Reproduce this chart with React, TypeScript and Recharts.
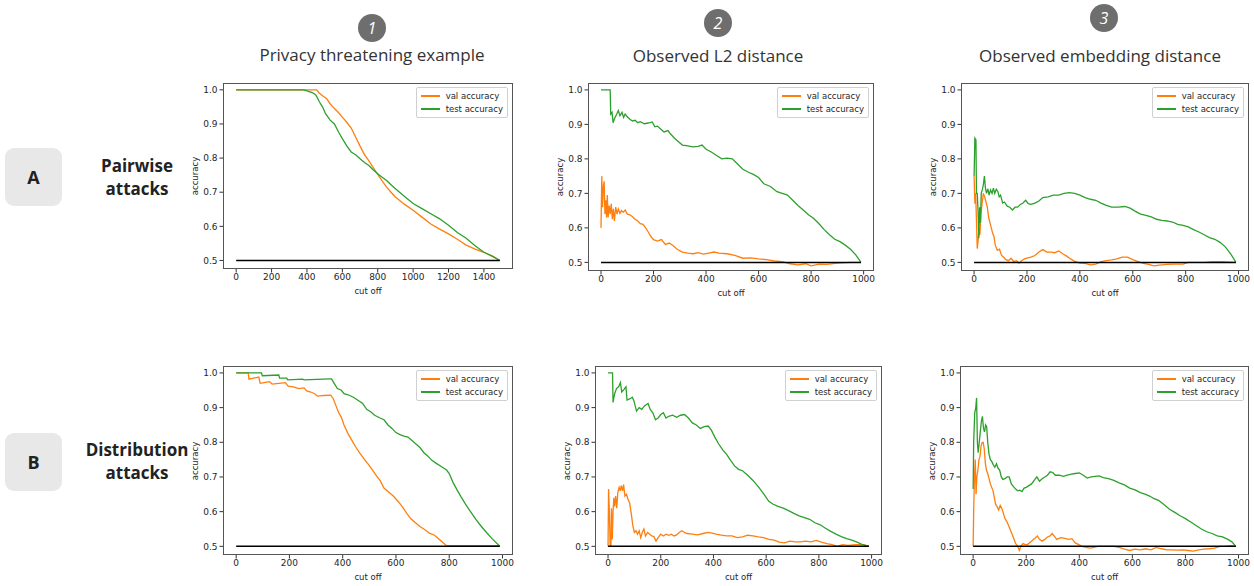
import React from "react";
import { LineChart, Line, XAxis, YAxis } from "recharts";

// column / row headings
const columnTitles = ["Privacy threatening example", "Observed L2 distance", "Observed embedding distance"];
const columnNumbers = ["1", "2", "3"];
const rowLetters = ["A", "B"];
const rowNames = [["Pairwise", "attacks"], ["Distribution", "attacks"]];
const legendLabels = ["val accuracy", "test accuracy"];

const yTicks = [0.5, 0.6, 0.7, 0.8, 0.9, 1.0];
const xTicksLong = [0, 200, 400, 600, 800, 1000, 1200, 1400];
const xTicksShort = [0, 200, 400, 600, 800, 1000];
const chanceLevel = 0.5;

// [cut off, accuracy]
const a1Val = [[0,1.0],[455,1.0],[470,0.99],[490,0.982],[510,0.975],[530,0.96],[550,0.948],[575,0.935],[600,0.92],[625,0.905],[650,0.888],[675,0.862],[700,0.835],[725,0.81],[750,0.792],[775,0.772],[800,0.752],[825,0.733],[850,0.715],[875,0.7],[900,0.686],[950,0.665],[1000,0.647],[1050,0.627],[1100,0.607],[1150,0.592],[1200,0.578],[1250,0.562],[1300,0.545],[1350,0.533],[1400,0.524],[1450,0.512],[1490,0.5]];
const a1Test = [[0,1.0],[380,1.0],[400,0.997],[430,0.992],[450,0.985],[470,0.965],[490,0.948],[505,0.93],[530,0.912],[555,0.9],[580,0.875],[600,0.857],[625,0.836],[650,0.818],[675,0.81],[700,0.798],[725,0.787],[750,0.778],[775,0.765],[800,0.754],[825,0.744],[850,0.734],[875,0.722],[900,0.71],[950,0.688],[1000,0.667],[1050,0.652],[1100,0.637],[1150,0.622],[1200,0.603],[1250,0.582],[1300,0.565],[1350,0.543],[1400,0.524],[1450,0.512],[1490,0.5]];

const a2Val = [[0,0.6],[3,0.75],[6,0.66],[9,0.72],[12,0.735],[15,0.64],[18,0.68],[21,0.63],[24,0.695],[27,0.63],[31,0.665],[35,0.64],[39,0.67],[43,0.625],[47,0.655],[51,0.62],[56,0.66],[61,0.64],[66,0.655],[72,0.642],[78,0.65],[85,0.645],[92,0.652],[100,0.64],[110,0.638],[120,0.632],[130,0.625],[140,0.62],[150,0.612],[160,0.61],[170,0.6],[180,0.588],[190,0.575],[200,0.566],[215,0.562],[230,0.566],[245,0.552],[260,0.556],[275,0.548],[290,0.538],[310,0.53],[330,0.527],[350,0.525],[370,0.528],[390,0.524],[410,0.527],[430,0.53],[450,0.527],[480,0.525],[510,0.52],[540,0.512],[570,0.513],[600,0.51],[630,0.508],[660,0.504],[690,0.502],[720,0.496],[750,0.493],[780,0.496],[800,0.49],[830,0.495],[860,0.494],[900,0.498],[950,0.5],[990,0.5]];
const a2Test = [[0,1.0],[35,1.0],[37,0.93],[42,0.935],[46,0.905],[52,0.918],[60,0.93],[66,0.94],[72,0.925],[80,0.935],[86,0.92],[92,0.93],[100,0.922],[110,0.915],[120,0.91],[130,0.912],[140,0.905],[150,0.908],[165,0.902],[180,0.904],[195,0.907],[205,0.893],[215,0.895],[228,0.886],[240,0.878],[255,0.882],[265,0.872],[280,0.86],[295,0.85],[310,0.84],[330,0.838],[350,0.835],[370,0.836],[385,0.84],[400,0.828],[420,0.82],[440,0.81],[460,0.8],[480,0.802],[500,0.8],[520,0.785],[540,0.77],[560,0.762],[580,0.755],[600,0.746],[620,0.728],[645,0.72],[670,0.705],[690,0.7],[710,0.695],[730,0.68],[750,0.665],[770,0.652],[790,0.638],[810,0.627],[830,0.612],[850,0.595],[870,0.58],[890,0.567],[910,0.56],[930,0.55],[950,0.538],[970,0.522],[990,0.5]];

const a3Val = [[0,0.75],[3,0.67],[6,0.7],[9,0.62],[12,0.54],[15,0.56],[18,0.6],[22,0.58],[26,0.64],[30,0.67],[35,0.7],[40,0.69],[45,0.675],[50,0.66],[55,0.63],[60,0.615],[65,0.6],[70,0.585],[75,0.575],[80,0.55],[88,0.535],[96,0.538],[104,0.52],[112,0.515],[120,0.508],[130,0.505],[140,0.512],[150,0.502],[160,0.505],[170,0.498],[180,0.505],[190,0.51],[200,0.512],[215,0.515],[230,0.52],[245,0.53],[260,0.537],[275,0.53],[290,0.53],[305,0.528],[320,0.533],[335,0.525],[350,0.518],[365,0.51],[380,0.503],[400,0.498],[420,0.497],[440,0.493],[460,0.495],[480,0.502],[500,0.505],[520,0.507],[540,0.51],[560,0.515],[580,0.515],[600,0.508],[620,0.502],[640,0.497],[660,0.494],[680,0.49],[700,0.492],[730,0.494],[760,0.495],[790,0.495],[810,0.5],[840,0.5],[870,0.5],[900,0.502],[940,0.502],[990,0.5]];
const a3Test = [[0,0.75],[3,0.86],[7,0.855],[9,0.7],[12,0.7],[15,0.65],[18,0.57],[21,0.66],[24,0.615],[27,0.7],[31,0.71],[35,0.725],[39,0.75],[43,0.715],[47,0.7],[52,0.713],[57,0.695],[62,0.71],[68,0.7],[73,0.715],[78,0.7],[84,0.712],[90,0.705],[95,0.69],[100,0.695],[108,0.672],[115,0.675],[125,0.663],[135,0.66],[145,0.652],[155,0.66],[165,0.66],[175,0.668],[185,0.672],[195,0.68],[205,0.67],[215,0.668],[230,0.672],[245,0.678],[260,0.688],[280,0.69],[300,0.695],[320,0.695],[340,0.7],[360,0.702],[380,0.7],[400,0.695],[420,0.688],[440,0.683],[460,0.68],[480,0.672],[500,0.665],[520,0.66],[545,0.66],[570,0.662],[590,0.657],[610,0.648],[630,0.64],[650,0.636],[670,0.632],[690,0.625],[710,0.622],[730,0.62],[750,0.617],[770,0.61],[790,0.607],[810,0.603],[830,0.595],[850,0.588],[870,0.58],[890,0.572],[910,0.567],[930,0.558],[950,0.545],[970,0.525],[990,0.5]];

const b1Val = [[0,1.0],[45,1.0],[48,0.982],[65,0.985],[85,0.988],[90,0.97],[110,0.973],[125,0.975],[135,0.968],[160,0.97],[185,0.972],[195,0.962],[215,0.96],[235,0.955],[255,0.957],[265,0.948],[280,0.945],[295,0.94],[305,0.933],[330,0.935],[355,0.936],[365,0.925],[375,0.905],[385,0.885],[395,0.872],[405,0.85],[420,0.825],[435,0.805],[450,0.785],[465,0.768],[480,0.752],[495,0.738],[510,0.722],[525,0.705],[540,0.69],[555,0.668],[570,0.658],[590,0.645],[610,0.628],[625,0.613],[640,0.596],[655,0.58],[670,0.57],[690,0.557],[710,0.547],[725,0.538],[745,0.532],[760,0.522],[775,0.512],[790,0.502],[990,0.502]];
const b1Test = [[0,1.0],[95,1.0],[98,0.992],[160,0.994],[163,0.985],[190,0.985],[193,0.98],[250,0.982],[255,0.98],[350,0.983],[358,0.983],[368,0.97],[380,0.955],[395,0.95],[405,0.94],[420,0.937],[440,0.93],[460,0.92],[475,0.912],[490,0.895],[505,0.888],[520,0.878],[540,0.87],[555,0.865],[570,0.85],[585,0.84],[600,0.828],[615,0.822],[630,0.818],[645,0.815],[660,0.805],[675,0.795],[690,0.785],[705,0.77],[720,0.76],[735,0.748],[750,0.74],[770,0.73],[790,0.72],[800,0.71],[815,0.683],[830,0.662],[845,0.642],[860,0.623],[880,0.6],[900,0.578],[920,0.558],[940,0.54],[960,0.523],[990,0.5]];

const b2Val = [[0,0.5],[2,0.665],[5,0.6],[8,0.5],[11,0.5],[13,0.61],[16,0.52],[19,0.6],[22,0.64],[25,0.615],[29,0.645],[33,0.61],[37,0.655],[42,0.67],[46,0.66],[50,0.675],[55,0.66],[59,0.678],[64,0.645],[70,0.65],[76,0.635],[82,0.625],[88,0.595],[94,0.56],[100,0.54],[106,0.545],[112,0.535],[118,0.545],[124,0.525],[130,0.54],[136,0.55],[142,0.53],[150,0.54],[158,0.535],[166,0.53],[174,0.528],[182,0.515],[190,0.525],[200,0.535],[210,0.53],[220,0.535],[230,0.532],[240,0.535],[250,0.53],[260,0.533],[270,0.54],[280,0.545],[290,0.54],[300,0.537],[320,0.535],[340,0.533],[360,0.537],[380,0.54],[395,0.538],[410,0.535],[430,0.532],[450,0.53],[470,0.53],[490,0.525],[510,0.527],[530,0.532],[550,0.53],[570,0.527],[590,0.525],[610,0.52],[630,0.518],[650,0.512],[670,0.51],[690,0.515],[710,0.513],[730,0.513],[750,0.515],[770,0.513],[790,0.517],[810,0.512],[830,0.508],[850,0.505],[870,0.5],[890,0.505],[910,0.503],[940,0.505],[970,0.505],[990,0.5]];
const b2Test = [[0,1.0],[17,1.0],[19,0.915],[25,0.94],[32,0.955],[40,0.96],[47,0.972],[52,0.945],[60,0.952],[68,0.96],[72,0.922],[82,0.925],[92,0.93],[98,0.92],[108,0.89],[118,0.9],[128,0.895],[138,0.905],[152,0.912],[160,0.895],[170,0.885],[180,0.865],[190,0.87],[200,0.88],[210,0.885],[220,0.87],[230,0.875],[245,0.878],[260,0.872],[275,0.878],[290,0.88],[305,0.87],[320,0.856],[335,0.85],[350,0.84],[365,0.845],[380,0.847],[392,0.835],[405,0.815],[420,0.795],[435,0.778],[450,0.765],[465,0.748],[480,0.732],[495,0.722],[510,0.718],[530,0.705],[550,0.69],[570,0.672],[590,0.652],[610,0.63],[625,0.622],[645,0.615],[665,0.61],[685,0.603],[705,0.595],[725,0.588],[745,0.583],[765,0.578],[785,0.568],[805,0.562],[825,0.552],[845,0.543],[865,0.535],[885,0.528],[905,0.522],[925,0.518],[945,0.512],[965,0.505],[990,0.5]];

const b3Val = [[0,0.5],[2,0.6],[5,0.7],[8,0.75],[11,0.65],[14,0.7],[18,0.72],[22,0.75],[26,0.76],[30,0.79],[34,0.8],[38,0.8],[42,0.78],[46,0.74],[50,0.72],[55,0.71],[60,0.695],[65,0.68],[70,0.67],[75,0.66],[80,0.64],[85,0.62],[90,0.615],[96,0.605],[102,0.618],[108,0.61],[114,0.595],[120,0.58],[128,0.57],[136,0.555],[144,0.54],[152,0.525],[160,0.508],[168,0.5],[174,0.488],[180,0.5],[188,0.508],[196,0.505],[205,0.505],[215,0.512],[225,0.518],[235,0.525],[242,0.53],[250,0.52],[260,0.515],[270,0.52],[280,0.527],[290,0.53],[298,0.537],[305,0.53],[315,0.52],[330,0.525],[345,0.523],[360,0.52],[372,0.522],[385,0.51],[398,0.505],[410,0.5],[425,0.497],[440,0.495],[455,0.497],[470,0.5],[490,0.5],[510,0.5],[530,0.5],[550,0.497],[570,0.492],[590,0.488],[610,0.492],[630,0.49],[650,0.493],[670,0.49],[690,0.497],[710,0.493],[730,0.49],[750,0.49],[770,0.489],[790,0.49],[810,0.488],[830,0.486],[850,0.49],[870,0.492],[890,0.493],[910,0.495],[930,0.5],[950,0.5],[970,0.502],[990,0.5]];
const b3Test = [[0,0.665],[2,0.8],[6,0.885],[10,0.9],[13,0.928],[16,0.8],[19,0.77],[23,0.8],[27,0.83],[31,0.86],[35,0.875],[39,0.84],[43,0.83],[47,0.85],[51,0.845],[55,0.8],[60,0.765],[65,0.75],[70,0.745],[76,0.735],[82,0.728],[88,0.738],[94,0.725],[100,0.72],[106,0.7],[112,0.693],[120,0.695],[128,0.7],[136,0.7],[144,0.68],[152,0.672],[160,0.665],[168,0.66],[176,0.662],[184,0.658],[192,0.668],[200,0.67],[210,0.675],[220,0.68],[230,0.69],[240,0.7],[250,0.688],[260,0.695],[270,0.7],[280,0.705],[290,0.715],[300,0.713],[310,0.705],[325,0.705],[340,0.702],[355,0.705],[370,0.708],[385,0.71],[400,0.712],[415,0.705],[430,0.697],[445,0.7],[460,0.702],[475,0.703],[490,0.698],[510,0.695],[530,0.69],[550,0.683],[570,0.677],[590,0.668],[610,0.663],[630,0.655],[650,0.65],[665,0.645],[680,0.638],[700,0.632],[720,0.62],[740,0.607],[760,0.598],[780,0.588],[800,0.58],[820,0.57],[840,0.56],[860,0.55],[880,0.542],[900,0.537],[920,0.53],[940,0.527],[960,0.52],[975,0.513],[990,0.5]];

const ORANGE = "#ff7f0e";
const GREEN = "#2ca02c";
const MPL_FONT = "'DejaVu Sans', sans-serif";
const HEAD_FONT = "'Open Sans', sans-serif";

const YW = 34; // y axis width
const XH = 28; // x axis height
const MT = 2;
const MR = 6;

const toPts = (arr: number[][]) => arr.map(([x, y]) => ({ x, y }));

type PanelProps = {
  left: number;
  top: number;
  w: number;
  h: number;
  xMax: number;
  xTicks: number[];
  val: number[][];
  test: number[][];
};

const Panel = ({ left, top, w, h, xMax, xTicks, val, test }: PanelProps) => {
  const tickStyle = { fontSize: 9, fill: "#262626", fontFamily: MPL_FONT };
  const base = toPts([[0, chanceLevel], [xMax, chanceLevel]]);
  return (
    <>
      <div style={{ position: "absolute", left: left - YW, top: top - MT }}>
        <LineChart width={w + YW + MR} height={h + MT + XH} margin={{ top: MT, right: MR, left: 0, bottom: 0 }}>
          <XAxis
            type="number"
            dataKey="x"
            domain={[-0.05 * xMax, 1.05 * xMax]}
            ticks={xTicks}
            allowDataOverflow
            height={XH}
            axisLine={false}
            tickSize={3.5}
            tickMargin={1}
            tickLine={{ stroke: "#333" }}
            tick={tickStyle}
          />
          <YAxis
            type="number"
            domain={[0.475, 1.02]}
            ticks={yTicks}
            allowDataOverflow
            width={YW}
            axisLine={false}
            tickSize={3.5}
            tickMargin={2}
            tickLine={{ stroke: "#333" }}
            tick={tickStyle}
            tickFormatter={(v: number) => v.toFixed(1)}
          />
          <Line data={toPts(val)} dataKey="y" type="linear" stroke={ORANGE} strokeWidth={1.3} dot={false} activeDot={false} isAnimationActive={false} />
          <Line data={toPts(test)} dataKey="y" type="linear" stroke={GREEN} strokeWidth={1.3} dot={false} activeDot={false} isAnimationActive={false} />
          <Line data={base} dataKey="y" type="linear" stroke="#000" strokeWidth={1.5} dot={false} activeDot={false} isAnimationActive={false} />
        </LineChart>
      </div>
      {/* axes frame */}
      <div style={{ position: "absolute", left, top, width: w, height: h, border: "1px solid #555", boxSizing: "border-box", pointerEvents: "none" }} />
      {/* legend */}
      <div
        style={{
          position: "absolute",
          right: 1254 - (left + w - 5),
          top: top + 4,
          background: "rgba(255,255,255,0.85)",
          border: "1px solid #d0d0d0",
          borderRadius: 2,
          padding: "2px 4px 2px 4px",
          fontFamily: MPL_FONT,
          fontSize: 8.5,
          color: "#262626",
          lineHeight: "12.5px",
        }}
      >
        {legendLabels.map((lab, i) => (
          <div key={lab} style={{ display: "flex", alignItems: "center", whiteSpace: "nowrap" }}>
            <span style={{ display: "inline-block", width: 19, height: 2, background: i === 0 ? ORANGE : GREEN, marginRight: 6 }} />
            {lab}
          </div>
        ))}
      </div>
      {/* axis labels */}
      <div style={{ position: "absolute", left: left, width: w, top: top + h + 17, textAlign: "center", fontFamily: MPL_FONT, fontSize: 8.5, color: "#262626" }}>
        cut off
      </div>
      <div
        style={{
          position: "absolute",
          left: left - 28 - 40,
          top: top + h / 2 - 6,
          width: 80,
          textAlign: "center",
          transform: "rotate(-90deg)",
          fontFamily: MPL_FONT,
          fontSize: 8.5,
          color: "#262626",
          lineHeight: "12px",
        }}
      >
        accuracy
      </div>
    </>
  );
};

const circles = [
  { cx: 372, cy: 28 },
  { cx: 718, cy: 23 },
  { cx: 1104, cy: 18 },
];
const titleCenters = [
  { cx: 372, cy: 55 },
  { cx: 718, cy: 56 },
  { cx: 1100, cy: 56 },
];

export default function App() {
  return (
    <div style={{ position: "absolute", left: 0, top: 0, width: 1254, height: 586, background: "#fff", overflow: "hidden" }}>
      {columnNumbers.map((n, i) => (
        <div
          key={n}
          style={{
            position: "absolute",
            left: circles[i].cx - 14,
            top: circles[i].cy - 14,
            width: 28,
            height: 28,
            borderRadius: 14,
            background: "#6e6e6e",
            color: "#fff",
            fontFamily: HEAD_FONT,
            fontStyle: "italic",
            fontSize: 16,
            lineHeight: "28px",
            textAlign: "center",
          }}
        >
          {n}
        </div>
      ))}
      {columnTitles.map((t, i) => (
        <div
          key={t}
          style={{
            position: "absolute",
            left: titleCenters[i].cx - 160,
            top: titleCenters[i].cy - 12,
            width: 320,
            textAlign: "center",
            fontFamily: HEAD_FONT,
            fontSize: 17,
            lineHeight: "24px",
            color: "#333",
          }}
        >
          {t}
        </div>
      ))}

      {rowLetters.map((l, i) => {
        const boxTop = i === 0 ? 148 : 433;
        return (
          <React.Fragment key={l}>
            <div
              style={{
                position: "absolute",
                left: 5,
                top: boxTop,
                width: 57,
                height: 58,
                borderRadius: 9,
                background: "#e8e8e8",
                color: "#222",
                fontFamily: HEAD_FONT,
                fontWeight: 700,
                fontSize: 18,
                lineHeight: "58px",
                textAlign: "center",
              }}
            >
              {l}
            </div>
            <div
              style={{
                position: "absolute",
                left: 77,
                top: boxTop + (i === 0 ? 6 : 5),
                width: 120,
                textAlign: "center",
                fontFamily: HEAD_FONT,
                fontWeight: 700,
                fontSize: 17,
                lineHeight: "23px",
                color: "#222",
              }}
            >
              {rowNames[i][0]}
              <br />
              {rowNames[i][1]}
            </div>
          </React.Fragment>
        );
      })}

      <Panel left={223} top={83} w={290} h={186} xMax={1490} xTicks={xTicksLong} val={a1Val} test={a1Test} />
      <Panel left={588} top={83} w={286} h={188} xMax={990} xTicks={xTicksShort} val={a2Val} test={a2Test} />
      <Panel left={961} top={83} w={288} h={188} xMax={990} xTicks={xTicksShort} val={a3Val} test={a3Test} />
      <Panel left={223} top={366} w={290} h={189} xMax={990} xTicks={xTicksShort} val={b1Val} test={b1Test} />
      <Panel left={595} top={366} w={287} h={189} xMax={990} xTicks={xTicksShort} val={b2Val} test={b2Test} />
      <Panel left={960} top={366} w={289} h={189} xMax={990} xTicks={xTicksShort} val={b3Val} test={b3Test} />
    </div>
  );
}
